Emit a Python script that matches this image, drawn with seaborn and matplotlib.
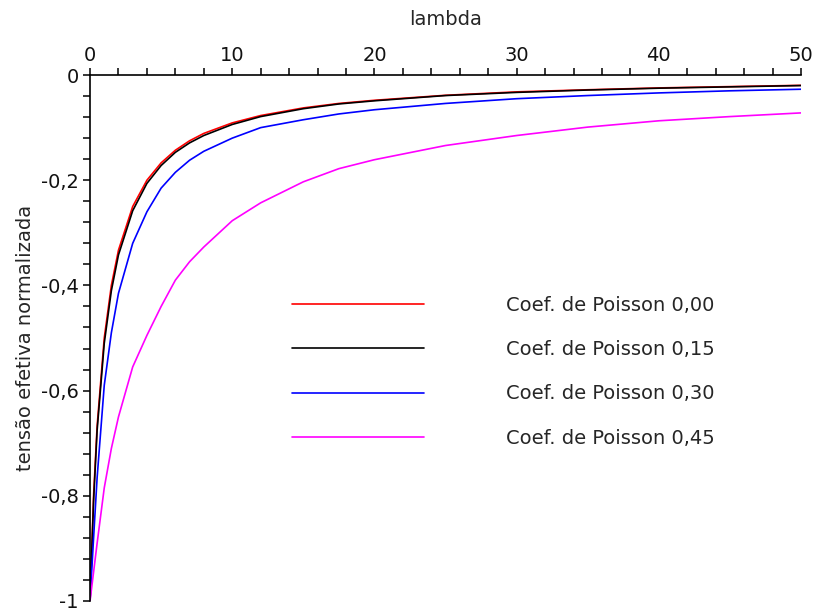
#!/usr/bin/env python3

import pandas as pd
import matplotlib
matplotlib.use("Agg")
import matplotlib.pyplot as plt
from matplotlib.ticker import MultipleLocator, FuncFormatter
import seaborn as sns

# ======================================================
# DATA
# ======================================================
LAMBDA = [0, 0.25, 0.5, 1, 1.5, 2, 3, 4, 5, 6, 7, 8, 10, 12, 15, 17.5,
          20, 25, 30, 35, 40, 45, 50]

NU_000 = [-1.0, -0.80, -0.667, -0.50, -0.40, -0.333, -0.25, -0.20, -0.167,
          -0.143, -0.125, -0.111, -0.091, -0.077, -0.0625, -0.054,
          -0.048, -0.0385, -0.032, -0.028, -0.0245, -0.022, -0.0196]
NU_015 = [-1.0, -0.81, -0.675, -0.51, -0.41, -0.342, -0.258, -0.206, -0.172,
          -0.147, -0.129, -0.115, -0.094, -0.079, -0.064, -0.055,
          -0.049, -0.039, -0.033, -0.0285, -0.025, -0.0225, -0.020]
NU_030 = [-1.0, -0.88, -0.765, -0.59, -0.49, -0.415, -0.32, -0.26, -0.215,
          -0.185, -0.162, -0.145, -0.12, -0.10, -0.085, -0.074,
          -0.066, -0.054, -0.045, -0.039, -0.034, -0.030, -0.027]
NU_045 = [-1.0, -0.945, -0.89, -0.785, -0.71, -0.65, -0.555, -0.495, -0.44,
          -0.39, -0.355, -0.327, -0.277, -0.243, -0.203, -0.178,
          -0.161, -0.134, -0.115, -0.099, -0.087, -0.079, -0.072]

LABELS = ["Coef. de Poisson 0,00", "Coef. de Poisson 0,15",
          "Coef. de Poisson 0,30", "Coef. de Poisson 0,45"]

COLORS = {
    LABELS[0]: "#FF0000",
    LABELS[1]: "#000000",
    LABELS[2]: "#0000FF",
    LABELS[3]: "#FF00FF",
}


def comma_fmt(v, pos):
    v = round(v, 6)
    if v == 0:
        return "0"
    return f"{v:g}".replace(".", ",")


def main():
    rows = []
    for label, vals in zip(LABELS, [NU_000, NU_015, NU_030, NU_045]):
        for lam, v in zip(LAMBDA, vals):
            rows.append({"lambda": lam, "tensao": v, "Serie": label})
    df = pd.DataFrame(rows)

    sns.set_style("white")
    plt.rcParams["font.family"] = ["DejaVu Sans"]

    fig = plt.figure(figsize=(8.14, 6.13), dpi=100)
    ax = fig.add_axes([0.1106, 0.0196, 0.8735, 0.858])

    sns.lineplot(
        data=df,
        x="lambda",
        y="tensao",
        hue="Serie",
        hue_order=LABELS,
        palette=COLORS,
        linewidth=1.2,
        ax=ax,
    )

    ax.set_xlim(0, 50)
    ax.set_ylim(-1, 0)

    # Maple-like axes: only left and top spines
    for side in ["right", "bottom"]:
        ax.spines[side].set_visible(False)
    for side in ["left", "top"]:
        ax.spines[side].set_color("black")
        ax.spines[side].set_linewidth(1.2)

    ax.xaxis.tick_top()
    ax.xaxis.set_label_position("top")
    ax.xaxis.set_major_locator(MultipleLocator(10))
    ax.xaxis.set_minor_locator(MultipleLocator(2))
    ax.yaxis.set_major_locator(MultipleLocator(0.2))
    ax.yaxis.set_minor_locator(MultipleLocator(0.04))
    ax.xaxis.set_major_formatter(FuncFormatter(comma_fmt))
    ax.yaxis.set_major_formatter(FuncFormatter(comma_fmt))

    ax.tick_params(axis="both", which="both", direction="out", length=5,
                   width=1.1, color="black", labelsize=14, labelcolor="#111111")
    ax.tick_params(axis="x", which="both", top=True, bottom=False, pad=2)
    ax.tick_params(axis="y", which="both", left=True, right=False, pad=3)

    ax.set_xlabel("lambda", fontsize=14, labelpad=15)
    ax.set_ylabel("tensão efetiva normalizada", fontsize=14)
    ax.yaxis.set_label_coords(-0.078, 0.5)

    ax.legend(
        loc="upper left",
        bbox_to_anchor=(0.284, 0.580),
        frameon=False,
        fontsize=14,
        handlelength=6.8,
        handletextpad=4.2,
        labelspacing=1.3,
        borderpad=0,
        borderaxespad=0,
    )

    fig.savefig("out.png", dpi=100)
    plt.close(fig)


if __name__ == "__main__":
    main()
